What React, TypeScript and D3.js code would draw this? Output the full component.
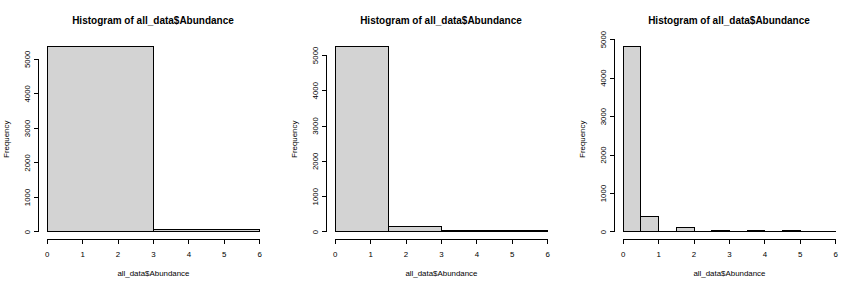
import React from "react";
import * as d3 from "d3";

const titleText = "Histogram of all_data$Abundance";
const xLabel = "all_data$Abundance";
const yLabel = "Frequency";
const xTicks = [0, 1, 2, 3, 4, 5, 6];
const yTicks = [0, 1000, 2000, 3000, 4000, 5000];

const breaks1 = [0, 3, 6];
const counts1 = [5370, 80];
const breaks2 = [0, 1.5, 3, 4.5, 6];
const counts2 = [5250, 145, 45, 35];
const breaks3 = [0, 0.5, 1, 1.5, 2, 2.5, 3, 3.5, 4, 4.5, 5, 5.5, 6];
const counts3 = [4820, 415, 0, 105, 0, 45, 0, 45, 0, 30, 0, 15];

const panels = [
  { breaks: breaks1, counts: counts1 },
  { breaks: breaks2, counts: counts2 },
  { breaks: breaks3, counts: counts3 },
];

const W = 864;
const H = 288;
const PW = 288;
const font = "'Liberation Sans', Arial, Helvetica, sans-serif";

function Panel({ breaks, counts, offset }: { breaks: number[]; counts: number[]; offset: number }) {
  const x0 = breaks[0];
  const x1 = breaks[breaks.length - 1];
  const xr = x1 - x0;
  const x = d3.scaleLinear().domain([x0 - 0.04 * xr, x1 + 0.04 * xr]).range([38.8, 268.1]);
  const ymax = d3.max(counts) as number;
  const y = d3.scaleLinear().domain([-0.04 * ymax, 1.04 * ymax]).range([239.4, 39.1]);
  const bars = counts.map((c, i) => ({ a: breaks[i], b: breaks[i + 1], c }));
  const yAxisX = 38.8;
  const xAxisY = 239.4;
  const yt = yTicks.filter((t) => t <= 1.04 * ymax);
  const barPath = (d: { a: number; b: number; c: number }) => {
    const p = d3.path();
    p.moveTo(x(d.a), y(0));
    p.lineTo(x(d.a), y(d.c));
    p.lineTo(x(d.b), y(d.c));
    p.lineTo(x(d.b), y(0));
    p.closePath();
    return p.toString();
  };
  return (
    <g transform={`translate(${offset},0)`}>
      <text x={PW / 2 + 9} y={23.5} textAnchor="middle" fontFamily={font} fontWeight="bold" fontSize={10} fill="#000">
        {titleText}
      </text>
      {bars.map((d, i) => (
        <path key={i} d={barPath(d)} fill="#D3D3D3" stroke="#000" strokeWidth={1} />
      ))}
      {/* x axis */}
      <line x1={x(xTicks[0])} x2={x(xTicks[xTicks.length - 1])} y1={xAxisY} y2={xAxisY} stroke="#000" />
      {xTicks.map((t) => (
        <g key={t}>
          <line x1={x(t)} x2={x(t)} y1={xAxisY} y2={xAxisY + 5} stroke="#000" />
          <text x={x(t)} y={256.6} textAnchor="middle" fontFamily={font} fontSize={7.9} fill="#000">
            {t}
          </text>
        </g>
      ))}
      {/* y axis */}
      <line x1={yAxisX} x2={yAxisX} y1={y(yt[0])} y2={y(yt[yt.length - 1])} stroke="#000" />
      {yt.map((t) => (
        <g key={t}>
          <line x1={yAxisX} x2={yAxisX - 5} y1={y(t)} y2={y(t)} stroke="#000" />
          <text
            transform={`translate(30,${y(t)}) rotate(-90)`}
            textAnchor="middle"
            fontFamily={font}
            fontSize={7.9}
            fill="#000"
          >
            {t}
          </text>
        </g>
      ))}
      <text x={x((x0 + x1) / 2)} y={276} textAnchor="middle" fontFamily={font} fontSize={7.9} fill="#000">
        {xLabel}
      </text>
      <text
        transform={`translate(9,${(39.1 + 239.4) / 2}) rotate(-90)`}
        textAnchor="middle"
        fontFamily={font}
        fontSize={7.9}
        fill="#000"
      >
        {yLabel}
      </text>
    </g>
  );
}

export default function App() {
  return (
    <svg
      width={W}
      height={H}
      style={{ position: "absolute", left: 0, top: 0, background: "#fff" }}
      shapeRendering="crispEdges"
    >
      <rect width={W} height={H} fill="#fff" />
      {panels.map((p, i) => (
        <Panel key={i} breaks={p.breaks} counts={p.counts} offset={i * PW} />
      ))}
    </svg>
  );
}
